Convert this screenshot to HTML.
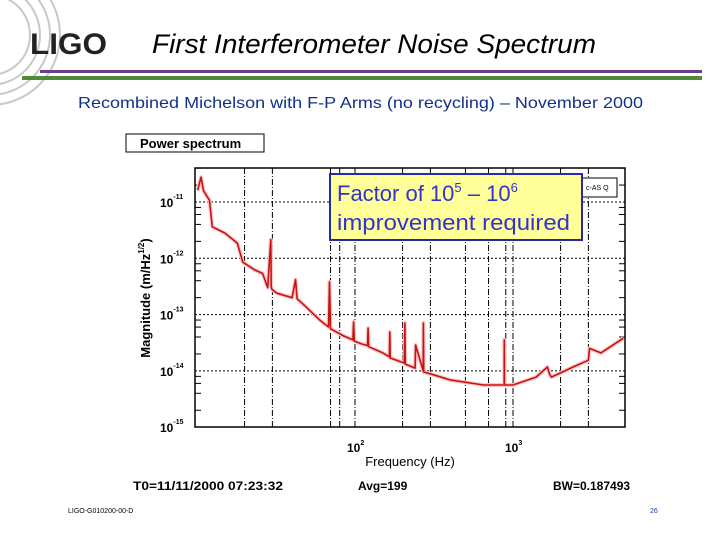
<!DOCTYPE html>
<html><head><meta charset="utf-8"><style>
html,body{margin:0;padding:0;background:#fff;}
body{width:720px;height:540px;position:relative;overflow:hidden;font-family:"Liberation Sans",sans-serif;}
</style></head><body>
<svg id="s" width="720" height="540" xmlns="http://www.w3.org/2000/svg" style="position:absolute;left:0;top:0">
 <g fill="none" stroke="#c8c8c8" stroke-width="2">
  <circle cx="-10" cy="35" r="40"/><circle cx="-10" cy="35" r="50"/><circle cx="-10" cy="35" r="60"/><circle cx="-10" cy="35" r="70"/>
 </g>
 <text x="30" y="54" font-size="30" font-weight="bold" fill="#222" textLength="77" lengthAdjust="spacingAndGlyphs">LIGO</text>
 <text x="152" y="53" font-size="27" font-style="italic" fill="#000" textLength="444" lengthAdjust="spacingAndGlyphs">First Interferometer Noise Spectrum</text>
 <rect x="40" y="70" width="662" height="3" fill="#6a3d8f"/>
 <rect x="22" y="76" width="680" height="4" fill="#4e8a3a"/>
 <text x="78" y="108" font-size="16" fill="#10308a" textLength="565" lengthAdjust="spacingAndGlyphs">Recombined Michelson with F-P Arms (no recycling) – November 2000</text>
 <rect x="126" y="134" width="138" height="18" fill="#fff" stroke="#000"/>
 <text x="140" y="148" font-size="13" font-weight="bold">Power spectrum</text>
 <g id="plot"></g>
 <text x="410" y="466" font-size="13" text-anchor="middle">Frequency (Hz)</text>
 <text transform="translate(150,298) rotate(-90)" font-size="13" font-weight="bold" text-anchor="middle">Magnitude (m/Hz<tspan font-size="8" dy="-6">1/2</tspan><tspan dy="6">)</tspan></text>
 <text x="133" y="490" font-size="12" font-weight="bold" textLength="150" lengthAdjust="spacingAndGlyphs">T0=11/11/2000 07:23:32</text>
 <text x="358" y="490" font-size="12" font-weight="bold">Avg=199</text>
 <text x="553" y="490" font-size="12" font-weight="bold">BW=0.187493</text>
 <text x="68" y="513" font-size="7">LIGO-G010200-00-D</text>
 <text x="650" y="513" font-size="7" fill="#1a3a9a">26</text>
 <rect x="582" y="178" width="35" height="19" fill="#fff" stroke="#000"/>
 <text x="586" y="190" font-size="7">c-AS Q</text>
 <rect x="330" y="174" width="252" height="66" fill="#ffff99" stroke="#2a2aa0" stroke-width="2"/>
 <text x="337" y="201" font-size="22" fill="#3333cc">Factor of 10<tspan font-size="13" dy="-9">5</tspan><tspan dy="9"> – 10</tspan><tspan font-size="13" dy="-9">6</tspan></text>
 <text x="337" y="230" font-size="22" fill="#3333cc" textLength="233" lengthAdjust="spacingAndGlyphs">improvement required</text>
</svg>
<script>
const gridFreqs=[20,30,70,80,100,200,300,500,700,900,1000,2000,3000];
const yDecades=[-11,-12,-13,-14,-15];
const xTickLabels=[100,1000];
const freqs=[10.1,10.6,11,12,12.5,15,18,19.5,23,26,28,29.3,29.5,29.8,32,40,42,43,46,60,68,69,70,85,97,98,99,110,120,121,122,150,165,166,167,205,207,208,240,242,270,271,272,290,400,650,880,881,882,1000,1400,1650,1700,1750,2400,3000,3050,3600,5000];
const mags=[-10.79,-10.56,-10.8,-10.97,-11.44,-11.55,-11.73,-12.07,-12.2,-12.27,-12.52,-11.67,-12.5,-12.55,-12.62,-12.70,-12.38,-12.72,-12.79,-13.1,-13.22,-12.42,-13.25,-13.38,-13.45,-13.13,-13.47,-13.52,-13.55,-13.24,-13.57,-13.68,-13.75,-13.31,-13.77,-13.86,-13.15,-13.88,-13.95,-13.54,-14.0,-13.15,-14.02,-14.04,-14.16,-14.25,-14.25,-13.45,-14.25,-14.25,-14.11,-13.93,-14.05,-14.11,-13.93,-13.81,-13.60,-13.68,-13.42];
const X0=195,X1=625,Y0=168,Y1=427;
const xs=f=>355+(Math.log10(f)-2)*158;
const ys=m=>202+(-11-m)*56.3;
const NS='http://www.w3.org/2000/svg';
const g=document.getElementById('plot');
function mk(t,a){const e=document.createElementNS(NS,t);for(const k in a)e.setAttribute(k,a[k]);g.appendChild(e);return e;}
gridFreqs.forEach(f=>{const e=mk('line',{x1:xs(f),x2:xs(f),y1:Y0,y2:Y1,stroke:'#000','stroke-width':1,'stroke-dasharray':'6,2,1,2'});

});
yDecades.forEach(d=>{if(d>-15){const e=mk('line',{x1:X0,x2:X1,y1:ys(d),y2:ys(d),stroke:'#000','stroke-width':1,'stroke-dasharray':'2,2'});

}
const t=mk('text',{x:160,y:ys(d)+5,'font-size':12,'font-weight':'bold'});t.textContent='10';


const s=document.createElementNS(NS,'tspan');s.setAttribute('font-size','7');s.setAttribute('dy','-8');s.textContent=String(d);t.appendChild(s);
for(let k=2;k<10;k+=2){const yy=ys(d)-Math.log10(k)*56.3;if(yy>Y0){mk('line',{x1:X0,x2:X0+6,y1:yy,y2:yy,stroke:'#000'});mk('line',{x1:X1-6,x2:X1,y1:yy,y2:yy,stroke:'#000'});}}
});
xTickLabels.forEach(f=>{const t=mk('text',{x:xs(f)-8,y:452,'font-size':12,'font-weight':'bold'});t.textContent='10';


const s=document.createElementNS(NS,'tspan');s.setAttribute('font-size','7');s.setAttribute('dy','-7');s.textContent=String(Math.round(Math.log10(f)));t.appendChild(s);});
const fr=mk('rect',{x:X0,y:Y0,width:X1-X0,height:Y1-Y0,fill:'none',stroke:'#000','stroke-width':1.5});


const pts=freqs.map((f,i)=>xs(f).toFixed(1)+','+ys(mags[i]).toFixed(1)).join(' ');
const h=mk('polyline',{points:pts,fill:'none',stroke:'#f8c8c8','stroke-width':4,'stroke-linejoin':'round'});


const l=mk('polyline',{points:pts,fill:'none',stroke:'#cc1010','stroke-width':1.6,'stroke-linejoin':'round'});


</script>
</body></html>
